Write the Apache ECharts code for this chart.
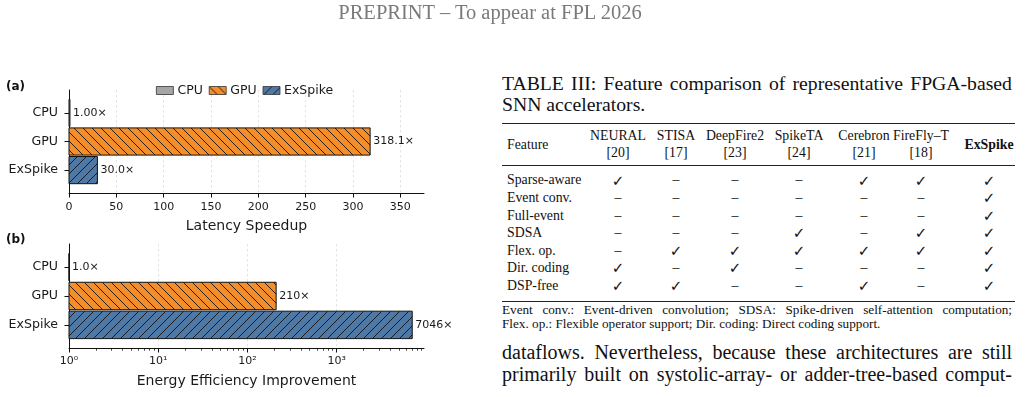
<!DOCTYPE html>
<html>
<head>
<meta charset="utf-8">
<script src="https://cdn.jsdelivr.net/npm/echarts@6/dist/echarts.min.js"></script>
<style>
    body {
        margin: 0;
        background: #fff;
    }

    #page {
        position: relative;
        width: 1025px;
        height: 397px;
        overflow: hidden;
    }

    #chart {
        position: absolute;
        left: 0;
        top: 0;
        width: 480px;
        height: 397px;
    }

    .tx {
        position: absolute;
        font-family: 'Liberation Serif', 'Times New Roman', serif;
        color: #111;
        white-space: nowrap;
    }

    .just {
        display: flex;
        justify-content: space-between;
    }

    .rule {
        position: absolute;
        background: #222;
    }
</style>
</head>
<body>
<div id="page">
    <div id="chart"></div>
</div>
<script type="text/javascript">
    // ---- chart data ----
    var cats = ['CPU', 'GPU', 'ExSpike'];
    var speedup = [1.0, 318.1, 30.0];
    var speedupLabels = ['1.00×', '318.1×', '30.0×'];
    var energy = [1.0, 210, 7046];
    var energyLabels = ['1.0×', '210×', '7046×'];
    var speedTicks = [0, 50, 100, 150, 200, 250, 300, 350];
    var energyTicks = [1, 10, 100, 1000];
    var energyTickLabels = ['10⁰', '10¹', '10²', '10³'];
    var barColors = ['#a5a5a5', '#f28e2b', '#4e79a7'];
    var barHatch = ['', '\\', '/'];

    // ---- table data ----
    var tableCols = ['NEURAL', 'STISA', 'DeepFire2', 'SpikeTA', 'Cerebron', 'FireFly–T', 'ExSpike'];
    var tableRefs = ['[20]', '[17]', '[23]', '[24]', '[21]', '[18]', ''];
    var features = ['Sparse-aware', 'Event conv.', 'Full-event', 'SDSA', 'Flex. op.', 'Dir. coding', 'DSP-free'];
    var support = [
        [1, 0, 0, 0, 1, 1, 1],
        [0, 0, 0, 0, 0, 0, 1],
        [0, 0, 0, 0, 0, 0, 1],
        [0, 0, 0, 1, 0, 1, 1],
        [0, 1, 1, 1, 1, 1, 1],
        [1, 0, 1, 0, 0, 0, 1],
        [1, 1, 0, 0, 1, 0, 1]
    ];

    var FONT = '"DejaVu Sans", sans-serif';

    function makeHatch(color, dir) {
        if (!dir) return color;
        var s = 9;
        var c = document.createElement('canvas');
        c.width = s;
        c.height = s;
        var g = c.getContext('2d');
        g.fillStyle = color;
        g.fillRect(0, 0, s, s);
        g.strokeStyle = '#111';
        g.lineWidth = 0.9;
        g.beginPath();
        if (dir === '\\') {
            g.moveTo(0, 0); g.lineTo(s, s);
            g.moveTo(-2, s - 2); g.lineTo(2, s + 2);
            g.moveTo(s - 2, -2); g.lineTo(s + 2, 2);
        } else {
            g.moveTo(0, s); g.lineTo(s, 0);
            g.moveTo(-2, 2); g.lineTo(2, -2);
            g.moveTo(s - 2, s + 2); g.lineTo(s + 2, s - 2);
        }
        g.stroke();
        return {image: c, repeat: 'repeat'};
    }

    function barRender(labels, base, fill) {
        return function (params, api) {
            var v = api.value(0), c = api.value(1);
            var p0 = api.coord([base, c - 0.475]);
            var p1 = api.coord([v, c + 0.475]);
            var y0 = Math.min(p0[1], p1[1]);
            var h = Math.abs(p1[1] - p0[1]);
            return {
                type: 'group',
                children: [{
                    type: 'rect',
                    shape: {x: p0[0], y: y0, width: p1[0] - p0[0], height: h},
                    style: {fill: fill, stroke: '#111', lineWidth: 1}
                }, {
                    type: 'text',
                    x: p1[0] + 3,
                    y: y0 + h / 2,
                    style: {text: labels[c], fill: '#1a1a1a', font: '11px ' + FONT, verticalAlign: 'middle', align: 'left'}
                }]
            };
        };
    }

    var series = [];
    cats.forEach(function (name, i) {
        var fill = makeHatch(barColors[i], barHatch[i]);
        var style = {color: fill, borderColor: '#111', borderWidth: 1};
        series.push({
            name: name, type: 'custom', xAxisIndex: 0, yAxisIndex: 0,
            itemStyle: style, renderItem: barRender(speedupLabels, 0, fill),
            encode: {x: 0, y: 1}, data: [[speedup[i], i]]
        });
        series.push({
            name: name, type: 'custom', xAxisIndex: 2, yAxisIndex: 1,
            itemStyle: style, renderItem: barRender(energyLabels, 1, fill),
            encode: {x: 0, y: 1}, data: [[energy[i], i]]
        });
    });

    var minorTicks = [];
    for (var d = 1; d <= 1000; d *= 10) {
        for (var k = 2; k <= 9; k++) minorTicks.push(k * d);
    }

    var spine = {show: true, onZero: false, lineStyle: {color: '#111', width: 1}};

    function yAxis(gridIndex) {
        return {
            type: 'value', gridIndex: gridIndex, min: -0.8, max: 2.8, inverse: true,
            axisLine: spine,
            axisTick: {show: true, length: 4.5, customValues: [0, 1, 2], lineStyle: {color: '#111'}},
            axisLabel: {
                customValues: [0, 1, 2], margin: 11, fontSize: 12.6, fontFamily: FONT, color: '#1a1a1a',
                formatter: function (v) { return cats[Math.round(v)]; }
            },
            splitLine: {show: false}
        };
    }

    var gridLine = {show: true, lineStyle: {color: '#dcdcdc', type: [2.5, 2.5], width: 0.8}};

    var chart = echarts.init(document.getElementById('chart'));
    chart.setOption({
        animation: false,
        legend: {
            left: 156, top: 84, padding: 0, icon: 'rect', itemWidth: 17, itemHeight: 8, itemGap: 6,
            textStyle: {fontSize: 12.5, fontFamily: FONT, color: '#1a1a1a', padding: [0, 0, 0, -1]},
            itemStyle: {borderColor: '#333', borderWidth: 0.8},
            data: cats
        },
        graphic: [
            {type: 'text', left: 6, top: 81, style: {text: '(a)', font: 'bold 12px ' + FONT, fill: '#111'}},
            {type: 'text', left: 6, top: 234, style: {text: '(b)', font: 'bold 12px ' + FONT, fill: '#111'}}
        ],
        grid: [
            {left: 69, width: 355, top: 90, height: 103},
            {left: 69, width: 355, top: 244, height: 104}
        ],
        xAxis: [{
            type: 'value', gridIndex: 0, min: 0, max: 375, interval: 50,
            axisLine: spine,
            axisTick: {show: true, length: 4.5, customValues: speedTicks, lineStyle: {color: '#111'}},
            axisLabel: {customValues: speedTicks, margin: 9, fontSize: 11, fontFamily: FONT, color: '#1a1a1a'},
            splitLine: gridLine,
            name: 'Latency Speedup', nameLocation: 'middle', nameGap: 26,
            nameTextStyle: {fontSize: 14, fontFamily: FONT, color: '#1a1a1a'}
        }, {
            type: 'log', gridIndex: 1, min: 1, max: 9550, logBase: 10, position: 'bottom',
            axisLine: {show: false, onZero: false},
            axisTick: {show: true, length: 2.7, customValues: minorTicks, lineStyle: {color: '#111', width: 0.8}},
            axisLabel: {show: false},
            splitLine: {show: false}
        }, {
            type: 'log', gridIndex: 1, min: 1, max: 9550, logBase: 10, position: 'bottom',
            axisLine: spine,
            axisTick: {show: true, length: 4.5, customValues: energyTicks, lineStyle: {color: '#111'}},
            axisLabel: {
                customValues: energyTicks, margin: 8, fontSize: 11, fontFamily: FONT, color: '#1a1a1a',
                formatter: function (v) { return energyTickLabels[energyTicks.indexOf(v)] || ''; }
            },
            splitLine: gridLine,
            name: 'Energy Efficiency Improvement', nameLocation: 'middle', nameGap: 26,
            nameTextStyle: {fontSize: 14, fontFamily: FONT, color: '#1a1a1a'}
        }],
        yAxis: [yAxis(0), yAxis(1)],
        series: series
    });

    // ---- right column: header, caption, table, text ----
    var page = document.getElementById('page');
    var L = 502, R = 1012, RULE_R = 1015;

    function put(text, opt) {
        var el = document.createElement('div');
        el.className = 'tx' + (opt.just ? ' just' : '');
        var lh = opt.size * 1.2;
        el.style.fontSize = opt.size + 'px';
        el.style.lineHeight = lh + 'px';
        el.style.top = (opt.y - lh / 2) + 'px';
        if (opt.bold) el.style.fontWeight = 'bold';
        if (opt.color) el.style.color = opt.color;
        if (opt.font) el.style.fontFamily = opt.font;
        if (opt.just) {
            // justified line: words spread to the column edges
            text.split(' ').forEach(function (w) {
                var s = document.createElement('span');
                s.textContent = w;
                el.appendChild(s);
            });
            el.style.left = L + 'px';
            el.style.width = (R - L) + 'px';
        } else {
            el.textContent = text;
            if (opt.cx !== undefined) {
                el.style.left = opt.cx + 'px';
                el.style.transform = 'translateX(-50%)';
            } else {
                el.style.left = opt.x + 'px';
            }
        }
        page.appendChild(el);
    }

    function rule(y, w) {
        var el = document.createElement('div');
        el.className = 'rule';
        el.style.left = L + 'px';
        el.style.width = (RULE_R - L) + 'px';
        el.style.top = (y - w / 2) + 'px';
        el.style.height = w + 'px';
        page.appendChild(el);
    }

    put('PREPRINT – To appear at FPL 2026', {cx: 490, y: 12.5, size: 20.5, color: '#7a7a7a'});
    put('TABLE III: Feature comparison of representative FPGA-based', {just: true, y: 84, size: 19.7});
    put('SNN accelerators.', {x: L, y: 105, size: 19.7});

    rule(123.3, 1.6);
    rule(165, 1);
    rule(301.7, 1.6);

    var colX = [618, 676, 735, 799, 864, 921, 989];
    var rowY0 = 180.7, rowStep = 17.55;
    var TS = 13.8;
    put('Feature', {x: 507, y: 145, size: TS});
    tableCols.forEach(function (name, j) {
        if (tableRefs[j]) {
            put(name, {cx: colX[j], y: 136, size: TS});
            put(tableRefs[j], {cx: colX[j], y: 153, size: TS});
        } else {
            put(name, {cx: colX[j], y: 145, size: TS, bold: true});
        }
    });
    features.forEach(function (f, i) {
        var y = rowY0 + i * rowStep;
        put(f, {x: 507, y: y, size: TS});
        support[i].forEach(function (s, j) {
            if (s) put('✓', {cx: colX[j], y: y, size: 15, font: FONT});
            else put('–', {cx: colX[j], y: y, size: TS});
        });
    });

    put('Event conv.: Event-driven convolution; SDSA: Spike-driven self-attention computation;', {just: true, y: 309.5, size: 13.2});
    put('Flex. op.: Flexible operator support; Dir. coding: Direct coding support.', {x: L, y: 323.5, size: 13.2});

    put('dataflows. Nevertheless, because these architectures are still', {just: true, y: 352, size: 20});
    put('primarily built on systolic-array- or adder-tree-based comput-', {just: true, y: 373.5, size: 20});
</script>
</body>
</html>
